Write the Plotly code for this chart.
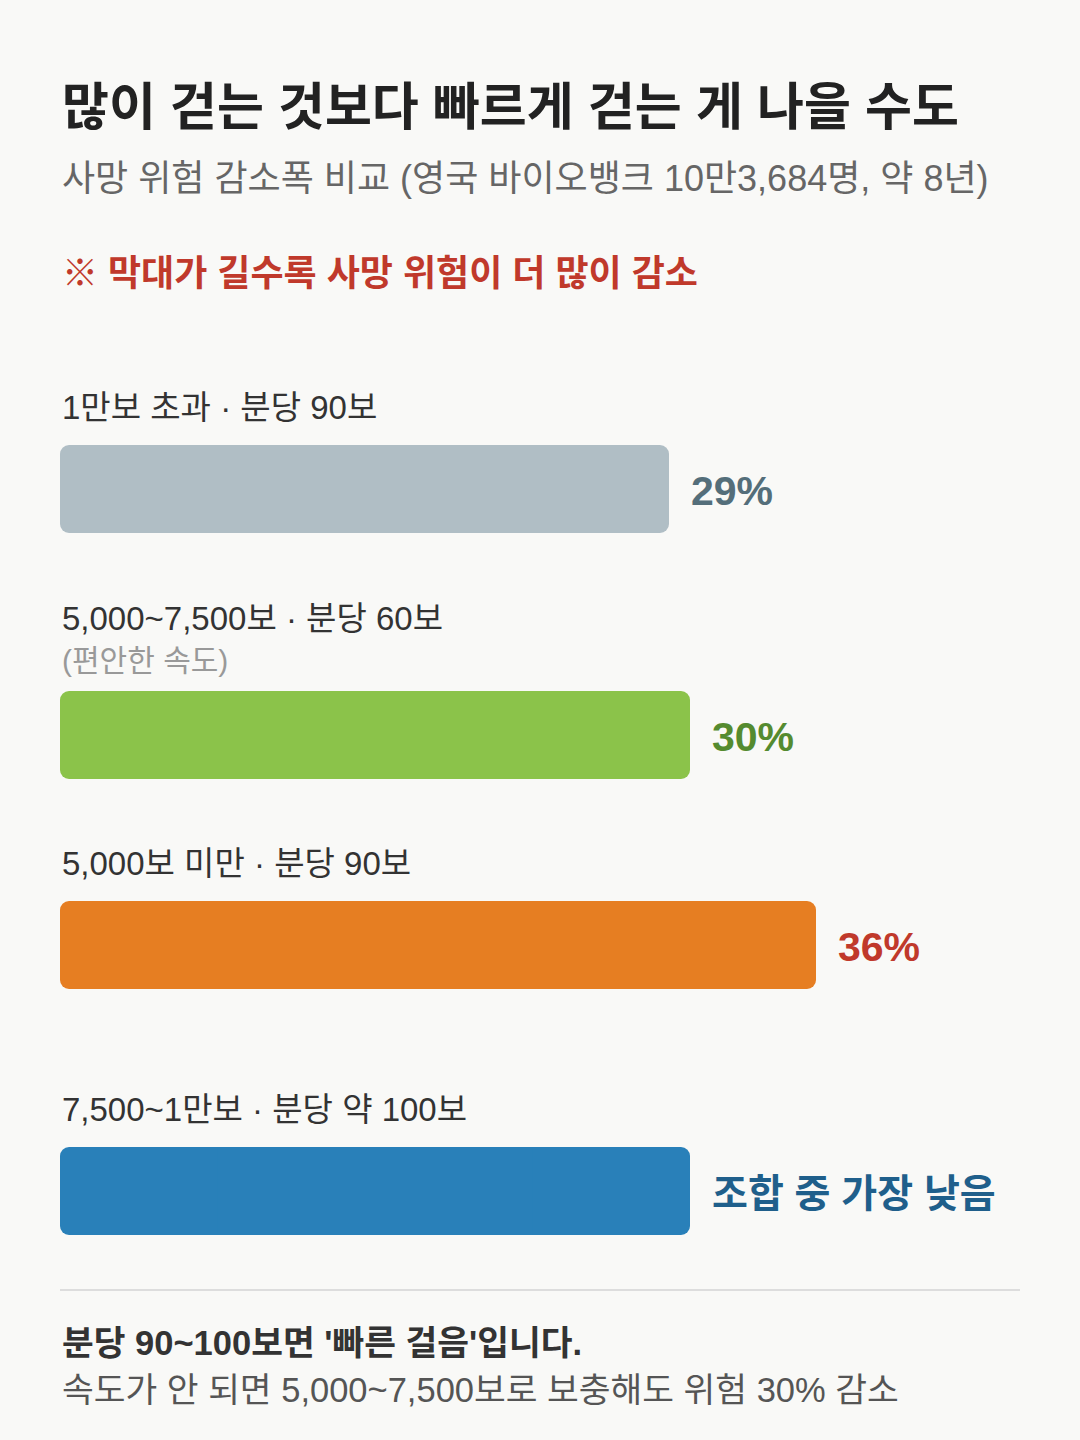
import plotly.graph_objects as go

# data
groups = ['1만보 초과 · 분당 90보', '5,000~7,500보 · 분당 60보', '5,000보 미만 · 분당 90보', '7,500~1만보 · 분당 약 100보']
group_notes = ['', '(편안한 속도)', '', '']
reduction = [29, 30, 36, 30]
value_labels = ['29%', '30%', '36%', '조합 중 가장 낮음']
bar_colors = ['#b0bec5', '#8bc34a', '#e67e22', '#2980b9']
label_colors = ['#546e7a', '#558b2f', '#c0392b', '#1f5f8b']

title = '많이 걷는 것보다 빠르게 걷는 게 나을 수도'
subtitle = '사망 위험 감소폭 비교 (영국 바이오뱅크 10만3,684명, 약 8년)'
note = '※ 막대가 길수록 사망 위험이 더 많이 감소'
footer_bold = "분당 90~100보면 '빠른 걸음'입니다."
footer = '속도가 안 되면 5,000~7,500보로 보충해도 위험 30% 감소'

# layout (y axis is in page pixels, top = 0)
W, H = 1080, 1440
bar_y = [489, 735, 945, 1191]
label_y = [407, 618, 863, 1109]
note_y = [None, 660, None, None]
BAR_H = 88
FONT = 'Liberation Sans, Noto Sans CJK KR, sans-serif'

x0, x1 = 60, 1020
px_per_unit = 21
xmax = (x1 - x0) / px_per_unit

fig = go.Figure()
# each bar drawn as two halves from its middle so both ends get rounded corners,
# plus a square-cornered piece over the joint
half = [v / 2 for v in reduction]
quarter = [v / 4 for v in reduction]
for xs, bs, rad in [([-h for h in half], half, 9), (half, half, 9), (half, quarter, 0)]:
    fig.add_trace(go.Bar(
        x=xs, base=bs, y=bar_y, orientation='h', width=BAR_H,
        marker=dict(color=bar_colors, line=dict(width=0), cornerradius=rad),
        hoverinfo='skip', showlegend=False,
    ))

ann = []
def txt(x, y, s, size, color, bold=False, xref='paper'):
    ann.append(dict(x=x, y=y, xref=xref, yref='y', text=f'<b>{s}</b>' if bold else s,
                    showarrow=False, xanchor='left', yanchor='middle',
                    font=dict(family=FONT, size=size, color=color)))

lx = x0 / W
txt(lx, 107, title, 51, '#222222', bold=True)
txt(lx, 178, subtitle, 36, '#666666')
txt(lx, 273, note, 36, '#c0392b', bold=True)
for i in range(len(groups)):
    txt(lx, label_y[i], groups[i], 33, '#333333')
    if group_notes[i]:
        txt(lx, note_y[i], group_notes[i], 30, '#999999')
    size = 39 if '%' not in value_labels[i] else 41
    ann.append(dict(x=reduction[i], y=bar_y[i] + 2, xref='x', yref='y', text=f'<b>{value_labels[i]}</b>',
                    showarrow=False, xanchor='left', yanchor='middle', xshift=20,
                    font=dict(family=FONT, size=size, color=label_colors[i])))
txt(lx, 1343, footer_bold, 34.5, '#333333', bold=True)
txt(lx, 1390, footer, 34.5, '#555555')

fig.update_layout(
    width=W, height=H,
    margin=dict(l=0, r=0, t=0, b=0),
    paper_bgcolor='#f9f9f7', plot_bgcolor='#f9f9f7',
    barmode='overlay',
    xaxis=dict(domain=[x0 / W, x1 / W], range=[0, xmax], visible=False, fixedrange=True),
    yaxis=dict(domain=[0, 1], range=[H, 0], visible=False, fixedrange=True),
    annotations=ann,
    shapes=[dict(type='line', xref='paper', yref='y', x0=x0 / W, x1=x1 / W, y0=1290, y1=1290,
                 line=dict(color='#dddddd', width=2))],
)

fig.write_html('out.html', config={'displayModeBar': False},
               post_script="document.body.style.margin='0';document.body.style.overflow='hidden';")
